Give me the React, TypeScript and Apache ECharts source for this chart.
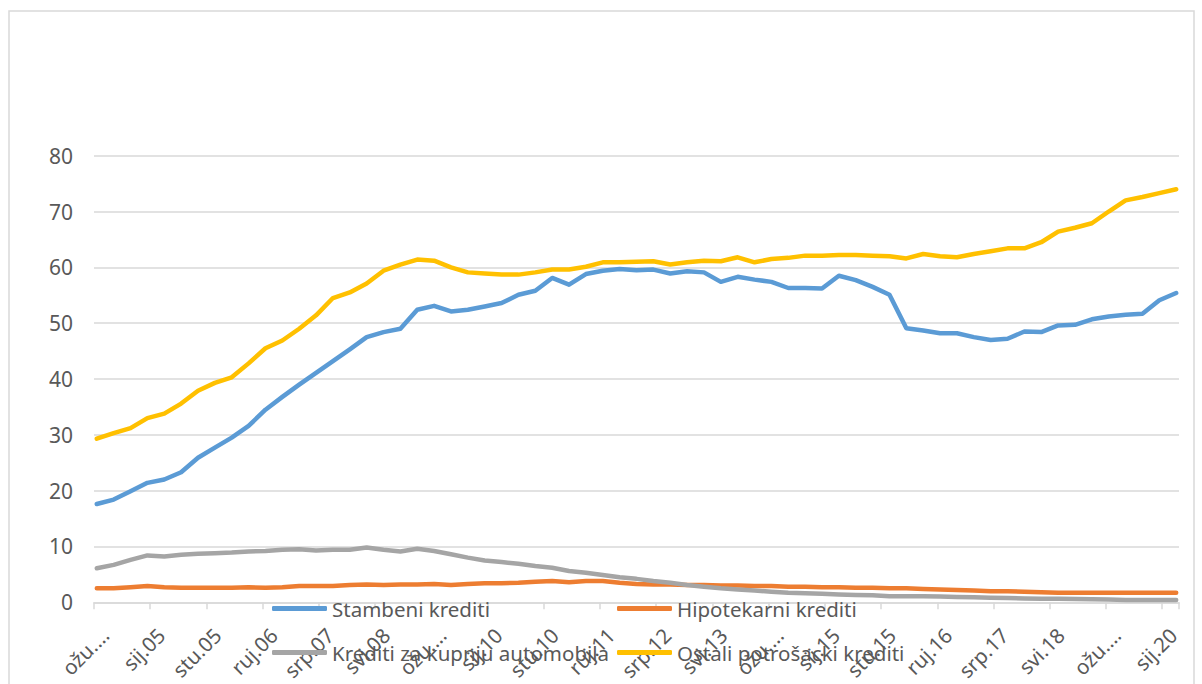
import React, { useEffect, useRef } from "react";
import * as echarts from "echarts";

const MONTHS = ["sij", "velj", "ožu", "tra", "svi", "lip", "srp", "kol", "ruj", "lis", "stu", "pro"];
const START_YEAR = 2004;
const START_MONTH = 2; // ožujak
const MONTH_COUNT = 193; // ožu.04 .. ožu.20

const categories: string[] = [];
for (let k = 0; k < MONTH_COUNT; k++) {
  const m = (START_MONTH + k) % 12;
  const y = START_YEAR + Math.floor((START_MONTH + k) / 12);
  categories.push(MONTHS[m] + "." + String(y % 100).padStart(2, "0"));
}

const yTicks = [0, 10, 20, 30, 40, 50, 60, 70, 80];

// quarterly values, ožu.04 .. ožu.20
const stambeni = [
  17.6, 18.4, 19.9, 21.4, 22.0, 23.3, 25.9, 27.7, 29.5, 31.6, 34.5, 36.8, 39.0,
  41.1, 43.2, 45.3, 47.5, 48.4, 49.0, 52.4, 53.1, 52.1, 52.4, 53.0, 53.6, 55.1,
  55.8, 58.1, 56.9, 58.8, 59.4, 59.7, 59.5, 59.6, 58.9, 59.3, 59.1, 57.4, 58.3,
  57.8, 57.4, 56.3, 56.3, 56.2, 58.5, 57.7, 56.5, 55.1, 49.1, 48.7, 48.2, 48.2,
  47.5, 47.0, 47.2, 48.5, 48.4, 49.6, 49.7, 50.7, 51.2, 51.5, 51.7, 54.1, 55.4,
];
const hipotekarni = [
  2.5, 2.5, 2.7, 2.9, 2.7, 2.6, 2.6, 2.6, 2.6, 2.7, 2.6, 2.7, 2.9, 2.9, 2.9,
  3.1, 3.2, 3.1, 3.2, 3.2, 3.3, 3.1, 3.3, 3.4, 3.4, 3.5, 3.7, 3.8, 3.6, 3.8,
  3.8, 3.5, 3.3, 3.2, 3.2, 3.1, 3.1, 3.0, 3.0, 2.9, 2.9, 2.8, 2.8, 2.7, 2.7,
  2.6, 2.6, 2.5, 2.5, 2.4, 2.3, 2.2, 2.1, 2.0, 2.0, 1.9, 1.8, 1.7, 1.7, 1.7,
  1.7, 1.7, 1.7, 1.7, 1.7,
];
const automobili = [
  6.1, 6.7, 7.6, 8.4, 8.2, 8.5, 8.7, 8.8, 8.9, 9.1, 9.2, 9.4, 9.5, 9.3, 9.4,
  9.4, 9.8, 9.4, 9.1, 9.6, 9.2, 8.6, 8.0, 7.5, 7.2, 6.9, 6.5, 6.2, 5.6, 5.3,
  4.9, 4.5, 4.2, 3.8, 3.5, 3.1, 2.8, 2.5, 2.3, 2.1, 1.9, 1.7, 1.6, 1.55, 1.4,
  1.3, 1.25, 1.1, 1.1, 1.1, 1.05, 0.95, 0.9, 0.8, 0.75, 0.7, 0.65, 0.65, 0.6,
  0.55, 0.5, 0.4, 0.4, 0.4, 0.4,
];
const ostali = [
  29.3, 30.3, 31.2, 33.0, 33.8, 35.6, 37.9, 39.3, 40.3, 42.8, 45.5, 46.9, 49.0,
  51.4, 54.5, 55.5, 57.1, 59.4, 60.5, 61.4, 61.2, 60.0, 59.1, 58.9, 58.7, 58.7,
  59.1, 59.6, 59.6, 60.1, 60.9, 60.9, 61.0, 61.1, 60.5, 60.9, 61.2, 61.1, 61.8,
  60.9, 61.5, 61.7, 62.1, 62.1, 62.2, 62.2, 62.1, 62.0, 61.6, 62.4, 62.0, 61.8,
  62.4, 62.9, 63.4, 63.4, 64.5, 66.4, 67.1, 67.9, 70.0, 72.0, 72.6, 73.3, 74.0,
];

const seriesNames = [
  "Stambeni krediti",
  "Hipotekarni krediti",
  "Krediti za kupnju automobila",
  "Ostali potrošacki krediti",
];
const seriesColors = ["#5B9BD5", "#ED7D31", "#A5A5A5", "#FFC000"];
const seriesValues = [stambeni, hipotekarni, automobili, ostali];

const FONT = "'Noto Sans', sans-serif";
const TEXT_COLOR = "#595959";
const FONT_SIZE = 20.5;

export default function App() {
  const ref = useRef<HTMLDivElement>(null);
  useEffect(() => {
    if (!ref.current) return;
    const chart = echarts.init(ref.current, undefined, { renderer: "svg" });
    const legendCommon = {
      icon: "roundRect",
      itemWidth: 55,
      itemHeight: 5,
      padding: 0,
      selectedMode: false,
      textStyle: { fontSize: FONT_SIZE, color: TEXT_COLOR, fontFamily: FONT },
    };
    const legendPos = [
      { left: 272, top: 598 },
      { left: 617, top: 598 },
      { left: 272, top: 642 },
      { left: 617, top: 642 },
    ];
    chart.setOption({
      animation: false,
      backgroundColor: "#ffffff",
      textStyle: { fontFamily: FONT },
      graphic: [
        {
          type: "rect",
          shape: { x: 9, y: 11, width: 1185, height: 720 },
          style: { fill: "none", stroke: "#d9d9d9", lineWidth: 1.5 },
          silent: true,
        },
      ],
      grid: { left: 94, right: 23, top: 155.7, bottom: 81, containLabel: false },
      legend: seriesNames.map((n, i) => ({ ...legendCommon, ...legendPos[i], data: [n] })),
      xAxis: {
        type: "category",
        data: categories,
        boundaryGap: true,
        axisLine: { show: true, lineStyle: { color: "#d9d9d9", width: 1.5 } },
        axisTick: {
          show: true,
          length: 7,
          interval: (idx: number) => idx % 10 === 0,
          lineStyle: { color: "#d9d9d9", width: 1.5 },
        },
        axisLabel: {
          interval: (idx: number) => idx % 10 === 0,
          rotate: 45,
          verticalAlign: "top",
          lineHeight: 23,
          margin: 21,
          fontSize: FONT_SIZE,
          color: TEXT_COLOR,
          fontFamily: FONT,
          formatter: (v: string) => (v.startsWith("ožu") ? "ožu.…" : v),
        },
        splitLine: { show: false },
      },
      yAxis: {
        type: "value",
        min: 0,
        max: 80,
        interval: 10,
        axisLine: { show: false },
        axisTick: { show: false },
        axisLabel: {
          margin: 21,
          fontSize: 21,
          color: TEXT_COLOR,
          fontFamily: FONT,
          formatter: (v: number) => (yTicks.includes(v) ? String(v) : ""),
        },
        splitLine: { lineStyle: { color: "#d9d9d9", width: 1.5 } },
      },
      series: seriesNames.map((n, i) => ({
        name: n,
        type: "line",
        data: seriesValues[i].map((v, q) => [q * 3, v]),
        showSymbol: false,
        symbol: "none",
        color: seriesColors[i],
        lineStyle: { width: 4.5, color: seriesColors[i], cap: "round", join: "round" },
        itemStyle: { color: seriesColors[i] },
        z: 2 + i,
      })),
    });
    return () => chart.dispose();
  }, []);
  return (
    <div
      ref={ref}
      style={{ position: "absolute", left: 0, top: 0, width: 1202, height: 684 }}
    />
  );
}
